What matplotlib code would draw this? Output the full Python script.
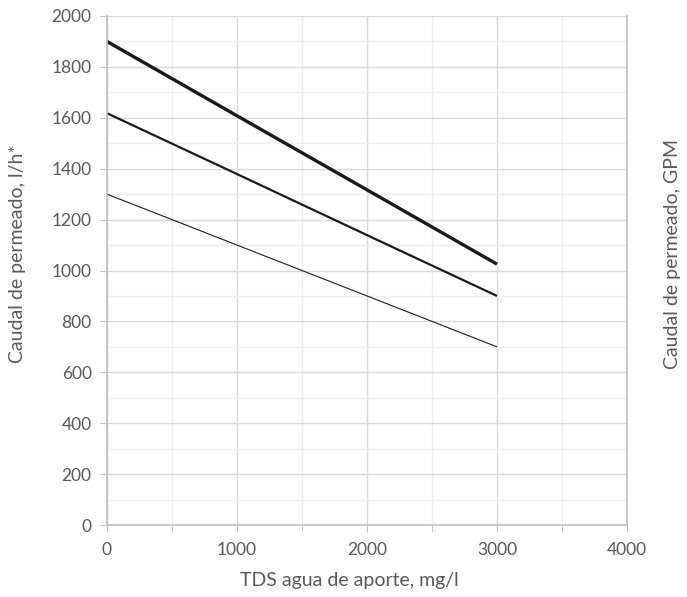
import matplotlib
matplotlib.use('Agg')
import matplotlib.pyplot as plt
from matplotlib.ticker import MultipleLocator

# TDS values and permeate flow for the three curves
tds = [0, 1000, 2000, 3000]
flow_high = [1900, 1608, 1317, 1025]
flow_mid = [1618, 1379, 1139, 900]
flow_low = [1300, 1100, 900, 700]

plt.rcParams['font.family'] = ['Lato', 'DejaVu Sans']
text_color = '#595959'

fig = plt.figure(figsize=(6.87, 5.97), dpi=100)
ax = fig.add_axes([0.1557, 0.1206, 0.757, 0.8526])

ax.plot(tds, flow_high, color='#1a1a1a', linewidth=2.4, solid_capstyle='butt')
ax.plot(tds, flow_mid, color='#1a1a1a', linewidth=1.6, solid_capstyle='butt')
ax.plot(tds, flow_low, color='#1a1a1a', linewidth=0.8, solid_capstyle='butt')

ax.set_xlim(0, 4000)
ax.set_ylim(0, 2000)
ax.xaxis.set_major_locator(MultipleLocator(1000))
ax.xaxis.set_minor_locator(MultipleLocator(500))
ax.yaxis.set_major_locator(MultipleLocator(200))
ax.yaxis.set_minor_locator(MultipleLocator(100))

ax.grid(which='major', color='#d9d9d9', linewidth=1.0)
ax.grid(which='minor', color='#efefef', linewidth=1.0)
ax.set_axisbelow(True)

for side in ['left', 'bottom', 'right']:
    ax.spines[side].set_color('#bfbfbf')
    ax.spines[side].set_linewidth(1.2)
ax.spines['top'].set_visible(False)

ax.tick_params(axis='x', which='major', length=5, color='#bfbfbf', labelsize=12.5, labelcolor=text_color, pad=7)
ax.tick_params(axis='x', which='minor', length=5, color='#bfbfbf')
ax.tick_params(axis='y', which='major', length=5, color='#bfbfbf', labelsize=12.5, labelcolor=text_color, pad=6)
ax.tick_params(axis='y', which='minor', length=0)

# axis titles placed in figure coordinates, as in the reference
fig.text(0.508, 0.028, 'TDS agua de aporte, mg/l', fontsize=14, color=text_color,
         ha='center', va='center')
fig.text(0.0262, 0.576, 'Caudal de permeado, l/h*', fontsize=14, color=text_color,
         ha='center', va='center', rotation=90)
fig.text(0.9796, 0.5745, 'Caudal de permeado, GPM', fontsize=14, color=text_color,
         ha='center', va='center', rotation=90)

fig.savefig('out.png', dpi=100)
